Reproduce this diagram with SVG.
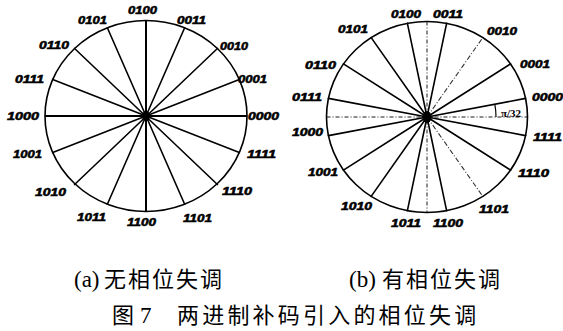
<svg xmlns="http://www.w3.org/2000/svg" width="563" height="331" viewBox="0 0 563 331">
<style>
.rim{fill:none;stroke:#000;stroke-width:1.6}
.sp{stroke:#000;stroke-width:1.6;fill:none;stroke-linecap:round}
.ax{stroke:#000;stroke-width:2}
.faint{stroke:#333;stroke-width:1.1;stroke-dasharray:5 2 1 2}
.axis{stroke:#000;stroke-width:0.9;stroke-dasharray:4 2 1 2;fill:none}
.lb{font-family:"Liberation Sans",Arial,sans-serif;font-weight:bold;font-style:italic;font-size:10px;fill:#000;stroke:#000;stroke-width:0.5}
.cap{font-family:"Liberation Serif","Noto Sans CJK SC",serif;font-size:23px;fill:#000}
.cjk{font-family:"Noto Sans CJK SC",sans-serif;font-size:22px;fill:#000}
</style>
<rect width="563" height="331" fill="#fff"/>

<g id="diagram-a">
  <ellipse class="rim" cx="146" cy="116" rx="101" ry="95.5"/>
  <g id="spokes-a">
    <line class="ax" x1="45" y1="116" x2="247" y2="116"/>
    <line class="ax" x1="146" y1="20.5" x2="146" y2="211.5"/>
    <line class="sp" x1="239.31" y1="79.45" x2="52.69" y2="152.55"/>
    <line class="sp" x1="217.42" y1="48.47" x2="74.58" y2="184.53"/>
    <line class="sp" x1="184.65" y1="27.77" x2="107.35" y2="204.23"/>
    <line class="sp" x1="107.35" y1="27.77" x2="184.65" y2="204.23"/>
    <line class="sp" x1="74.58" y1="48.47" x2="217.42" y2="184.53"/>
    <line class="sp" x1="52.69" y1="79.45" x2="239.31" y2="152.55"/>
  </g>
  <ellipse cx="146" cy="116" rx="4" ry="5" fill="#000"/>
  <g id="labels-a" class="lb">
    <text x="128" y="14" textLength="29" lengthAdjust="spacingAndGlyphs">0100</text>
    <text x="177" y="24" textLength="29" lengthAdjust="spacingAndGlyphs">0011</text>
    <text x="220" y="50" textLength="28" lengthAdjust="spacingAndGlyphs">0010</text>
    <text x="238" y="83" textLength="29" lengthAdjust="spacingAndGlyphs">0001</text>
    <text x="248" y="120" textLength="31" lengthAdjust="spacingAndGlyphs">0000</text>
    <text x="247" y="158" textLength="29" lengthAdjust="spacingAndGlyphs">1111</text>
    <text x="222" y="195" textLength="30" lengthAdjust="spacingAndGlyphs">1110</text>
    <text x="183" y="222" textLength="29" lengthAdjust="spacingAndGlyphs">1101</text>
    <text x="127" y="226" textLength="29" lengthAdjust="spacingAndGlyphs">1100</text>
    <text x="77" y="221" textLength="29" lengthAdjust="spacingAndGlyphs">1011</text>
    <text x="35" y="196" textLength="31" lengthAdjust="spacingAndGlyphs">1010</text>
    <text x="13" y="158" textLength="29" lengthAdjust="spacingAndGlyphs">1001</text>
    <text x="7" y="120" textLength="32" lengthAdjust="spacingAndGlyphs">1000</text>
    <text x="15" y="83" textLength="29" lengthAdjust="spacingAndGlyphs">0111</text>
    <text x="39" y="49" textLength="30" lengthAdjust="spacingAndGlyphs">0110</text>
    <text x="78" y="24" textLength="29" lengthAdjust="spacingAndGlyphs">0101</text>
  </g>
</g>

<g id="diagram-b">
  <ellipse class="rim" cx="427" cy="117" rx="100.5" ry="95.5"/>
  <line class="axis" x1="326.5" y1="117" x2="527.5" y2="117"/>
  <line class="axis" x1="427" y1="21.5" x2="427" y2="212.5"/>
  <g id="spokes-b">
    <line class="sp" x1="427" y1="117" x2="525.57" y2="98.37"/>
    <line class="sp" x1="427" y1="117" x2="510.56" y2="63.94"/>
    <line class="faint" x1="427" y1="117" x2="482.83" y2="37.59"/>
    <line class="sp" x1="427" y1="117" x2="446.61" y2="23.33"/>
    <line class="sp" x1="427" y1="117" x2="407.39" y2="23.33"/>
    <line class="sp" x1="427" y1="117" x2="371.17" y2="37.59"/>
    <line class="sp" x1="427" y1="117" x2="343.44" y2="63.94"/>
    <line class="sp" x1="427" y1="117" x2="328.43" y2="98.37"/>
    <line class="sp" x1="427" y1="117" x2="328.43" y2="135.63"/>
    <line class="sp" x1="427" y1="117" x2="343.44" y2="170.06"/>
    <line class="sp" x1="427" y1="117" x2="371.17" y2="196.41"/>
    <line class="sp" x1="427" y1="117" x2="407.39" y2="210.67"/>
    <line class="sp" x1="427" y1="117" x2="446.61" y2="210.67"/>
    <line class="faint" x1="427" y1="117" x2="482.83" y2="196.41"/>
    <line class="sp" x1="427" y1="117" x2="510.56" y2="170.06"/>
    <line class="sp" x1="427" y1="117" x2="525.57" y2="135.63"/>
  </g>
  <ellipse cx="427" cy="117" rx="4.5" ry="6" fill="#000"/>
  <g id="angle-b">
    <path d="M496 117 A69 69 0 0 0 494.8 104.2" fill="none" stroke="#000" stroke-width="1.2"/>
    <text x="501" y="117" font-family="'Liberation Serif',serif" font-size="11" font-weight="bold">π/32</text>
  </g>
  <g id="labels-b" class="lb">
    <text x="391" y="18" textLength="30" lengthAdjust="spacingAndGlyphs">0100</text>
    <text x="433" y="18" textLength="30" lengthAdjust="spacingAndGlyphs">0011</text>
    <text x="487" y="35" textLength="30" lengthAdjust="spacingAndGlyphs">0010</text>
    <text x="520" y="68" textLength="30" lengthAdjust="spacingAndGlyphs">0001</text>
    <text x="532" y="101" textLength="31" lengthAdjust="spacingAndGlyphs">0000</text>
    <text x="533" y="141" textLength="29" lengthAdjust="spacingAndGlyphs">1111</text>
    <text x="518" y="177" textLength="31" lengthAdjust="spacingAndGlyphs">1110</text>
    <text x="479" y="213" textLength="30" lengthAdjust="spacingAndGlyphs">1101</text>
    <text x="433" y="227" textLength="30" lengthAdjust="spacingAndGlyphs">1100</text>
    <text x="391" y="227" textLength="30" lengthAdjust="spacingAndGlyphs">1011</text>
    <text x="341" y="210" textLength="31" lengthAdjust="spacingAndGlyphs">1010</text>
    <text x="308" y="176" textLength="30" lengthAdjust="spacingAndGlyphs">1001</text>
    <text x="292" y="136" textLength="31" lengthAdjust="spacingAndGlyphs">1000</text>
    <text x="292" y="101" textLength="30" lengthAdjust="spacingAndGlyphs">0111</text>
    <text x="305" y="69" textLength="31" lengthAdjust="spacingAndGlyphs">0110</text>
    <text x="338" y="33" textLength="30" lengthAdjust="spacingAndGlyphs">0101</text>
  </g>
</g>

<g id="captions">
  <text class="cap" x="74" y="287">(a)<tspan class="cjk" x="104" letter-spacing="2">无相位失调</tspan></text>
  <text class="cap" x="349" y="287">(b)<tspan class="cjk" x="382" letter-spacing="2">有相位失调</tspan></text>
  <text class="cjk" x="112" y="323">图</text>
  <text class="cap" x="140" y="323" font-size="22">7</text>
  <text class="cjk" x="177" y="323" letter-spacing="3.2">两进制补码引入的相位失调</text>
</g>
</svg>
